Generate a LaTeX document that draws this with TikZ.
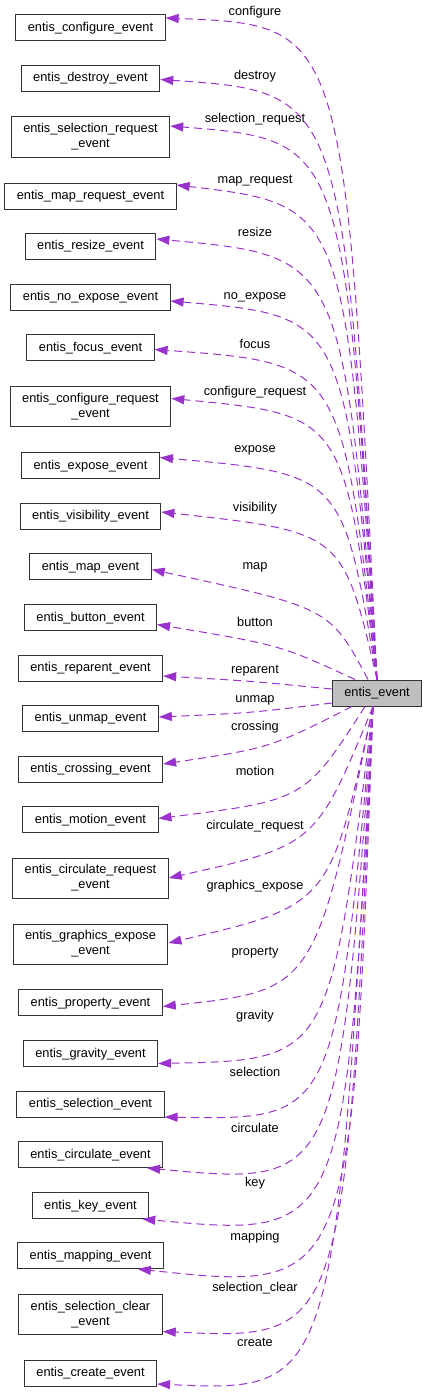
\documentclass[tikz,border=0pt]{standalone}
\usepackage{fontspec}
\setmainfont{Liberation Sans}
\usetikzlibrary{arrows.meta}
\definecolor{memberpurple}{HTML}{9A32CD}
\definecolor{basegray}{HTML}{BFBFBF}
\tikzset{
    evbox/.style={rectangle, draw=black!80, line width=1pt, inner xsep=12pt, inner ysep=0pt, minimum height=26pt, align=center},
    evone/.style={evbox, text height=9.5pt, text depth=2.5pt},
    evtwo/.style={evbox, minimum height=40pt},
    basebox/.style={evone, fill=basegray},
    member/.style={-{Triangle[length=13pt,width=9pt]}, memberpurple, dash pattern=on 8pt off 5pt, line width=1pt},
    lbl/.style={anchor=base, inner sep=0pt},
}

\begin{document}
\begin{tikzpicture}[x=1pt, y=-1pt, font=\fontsize{12.8}{15}\selectfont]
    \useasboundingbox (0,0) rectangle (427,1394);
    % the base struct
    \node[basebox] (ev) at (377,693) {entis\_event};
    % member structs
    \node[evone] (cfg) at (90.5,28) {entis\_configure\_event};
    \node[evone] (dst) at (90.5,78.5) {entis\_destroy\_event};
    \node[evtwo] (selreq) at (90.5,137) {entis\_selection\_request\\\_event};
    \node[evone] (mapreq) at (90.5,196) {entis\_map\_request\_event};
    \node[evone] (rsz) at (90.5,246) {entis\_resize\_event};
    \node[evone] (noexp) at (90.5,297) {entis\_no\_expose\_event};
    \node[evone] (foc) at (90.5,347.5) {entis\_focus\_event};
    \node[evtwo] (cfgreq) at (90.5,406.5) {entis\_configure\_request\\\_event};
    \node[evone] (expo) at (90.5,465.5) {entis\_expose\_event};
    \node[evone] (vis) at (90.5,516) {entis\_visibility\_event};
    \node[evone] (mapev) at (90.5,566.5) {entis\_map\_event};
    \node[evone] (btn) at (90.5,617.5) {entis\_button\_event};
    \node[evone] (rep) at (90.5,668) {entis\_reparent\_event};
    \node[evone] (unmap) at (90.5,718) {entis\_unmap\_event};
    \node[evone] (cross) at (90.5,769) {entis\_crossing\_event};
    \node[evone] (motion) at (90.5,819.5) {entis\_motion\_event};
    \node[evtwo] (circreq) at (90.5,878) {entis\_circulate\_request\\\_event};
    \node[evtwo] (gexp) at (90.5,944) {entis\_graphics\_expose\\\_event};
    \node[evone] (prop) at (90.5,1002.5) {entis\_property\_event};
    \node[evone] (grav) at (90.5,1053.5) {entis\_gravity\_event};
    \node[evone] (sel) at (90.5,1104) {entis\_selection\_event};
    \node[evone] (circ) at (90.5,1154.5) {entis\_circulate\_event};
    \node[evone] (key) at (90.5,1205.5) {entis\_key\_event};
    \node[evone] (mapping) at (90.5,1255.5) {entis\_mapping\_event};
    \node[evtwo] (selclr) at (90.5,1314.5) {entis\_selection\_clear\\\_event};
    \node[evone] (create) at (90.5,1373) {entis\_create\_event};
    % member names
    \foreach \n/\t/\y in {cfg/configure/15.7, dst/destroy/80, selreq/selection\_request/122.7,
        mapreq/map\_request/183, rsz/resize/236.7, noexp/no\_expose/299, foc/focus/348,
        cfgreq/configure\_request/395, expo/expose/452.7, vis/visibility/511.7, mapev/map/569,
        btn/button/626.7, rep/reparent/673, unmap/unmap/702, cross/crossing/730.7,
        motion/motion/775, circreq/circulate\_request/829, gexp/graphics\_expose/889,
        prop/property/955, grav/gravity/1019, sel/selection/1076.7, circ/circulate/1132.7,
        key/key/1186.7, mapping/mapping/1240, selclr/selection\_clear/1291.7, create/create/1346.7}
        \node[lbl] (l\n) at (255,\y) {\t};
    % edges leaving the top
    \foreach \n/\kx/\ky/\dy in {cfg/345/25/10, dst/343/92/-1, selreq/344/140/11, mapreq/345/205/11,
        rsz/342/256/7, noexp/344/316/-4, foc/342/363/-2, cfgreq/344/415/8, expo/343/474/8, vis/343/532/4}
        \draw[member] (ev.north) .. controls (\kx,\ky) .. ([yshift=\dy pt]\n.east);
    \draw[member] ([xshift=-9pt]ev.north) .. controls (330,608) .. ([yshift=-3pt]mapev.east);
    \draw[member] ([xshift=-22pt]ev.north) .. controls (280,645) .. ([yshift=-7pt]btn.east);
    % edges leaving the side
    \draw[member] ([yshift=4pt]ev.west) .. controls (250,681) .. ([yshift=-8pt]rep.east);
    \draw[member] ([yshift=-10pt]ev.west) .. controls (250,713) .. ([yshift=1pt]unmap.east);
    % edges leaving the bottom
    \draw[member] ([xshift=-25pt]ev.south) .. controls (270,748) .. ([yshift=5pt]cross.east);
    \draw[member] ([xshift=-12pt]ev.south) .. controls (305,800) .. ([yshift=1pt]motion.east);
    \foreach \n/\kx/\ky/\dy in {circreq/316/845/0, gexp/330/905/1, prop/315/990/-4, grav/330/1060/-10,
        sel/335/1120/-13, selclr/345/1340/-17, create/335/1392/-11}
        \draw[member] ([xshift=-4pt]ev.south) .. controls (\kx,\ky) .. ([yshift=\dy pt]\n.east);
    \draw[member] ([xshift=-4pt]ev.south) .. controls (338,1186) .. ([xshift=-16pt]circ.south east);
    \draw[member] ([xshift=-4pt]ev.south) .. controls (345,1238) .. ([xshift=-7pt]key.south east);
    \draw[member] ([xshift=-4pt]ev.south) .. controls (352,1292) .. ([xshift=-26pt]mapping.south east);
\end{tikzpicture}
\end{document}
